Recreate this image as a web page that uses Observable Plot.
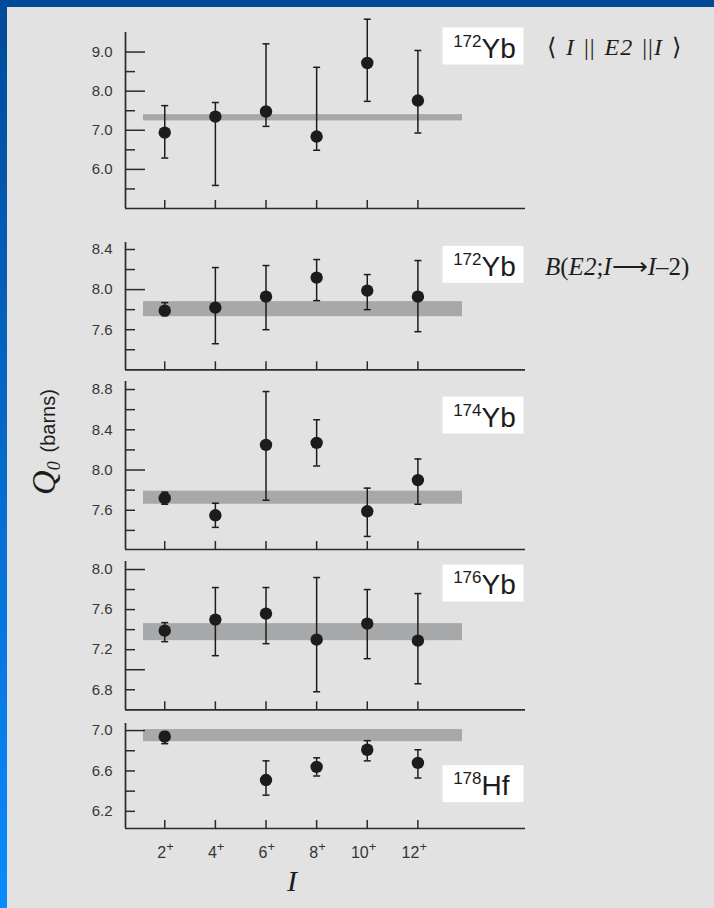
<!DOCTYPE html>
<html>
<head>
<meta charset="utf-8">
<script src="https://cdn.jsdelivr.net/npm/d3@7"></script>
<script src="https://cdn.jsdelivr.net/npm/@observablehq/plot@0.6"></script>
<style>
  html, body { margin: 0; padding: 0; background: #e1e2e1; }
  #page { position: relative; width: 714px; height: 908px; background: #e1e2e1; overflow: hidden;
          font-family: "Liberation Sans", Arial, Helvetica, sans-serif; }
  #topband { position: absolute; left: 0; top: 0; width: 714px; height: 7px; background: #004a98; }
  #leftband { position: absolute; left: 0; top: 0; width: 7px; height: 908px;
              background: linear-gradient(#004a98, #0a8aff); }
  .serif { font-family: "Liberation Serif", "Times New Roman", serif; }
  .anno { position: absolute; line-height: 1; white-space: nowrap; color: #1d1d1d; }
  .anno i { font-style: italic; }
</style>
</head>
<body>
<div id="page">
  <div id="topband"></div>
  <div id="leftband"></div>
</div>
<script>
// ---------- data ----------
const spins = [2, 4, 6, 8, 10, 12];
const spinLabels = ["2", "4", "6", "8", "10", "12"];
const parity = "+";
const xDomain = [0.45, 16.25];

// 172Yb  <I||E2||I>
const yb172Diag   = [6.94, 7.35, 7.48, 6.84, 8.72, 7.76];
const yb172DiagLo = [6.29, 5.59, 7.10, 6.49, 7.74, 6.93];
const yb172DiagHi = [7.63, 7.71, 9.21, 8.61, 9.84, 9.04];
const yb172DiagBand = [7.24, 7.40];
const domainP1 = [5.0, 9.5];
const ticksP1  = [5.5, 6.0, 6.5, 7.0, 7.5, 8.0, 8.5, 9.0];
const labelsP1 = [6.0, 7.0, 8.0, 9.0];

// 172Yb  B(E2; I -> I-2)
const yb172BE2   = [7.79, 7.82, 7.93, 8.12, 7.99, 7.93];
const yb172BE2Lo = [7.74, 7.46, 7.60, 7.89, 7.80, 7.58];
const yb172BE2Hi = [7.87, 8.22, 8.24, 8.30, 8.15, 8.29];
const yb172BE2Band = [7.73, 7.88];
const domainP2 = [7.2, 8.47];
const ticksP2  = [7.4, 7.6, 7.8, 8.0, 8.2, 8.4];
const labelsP2 = [7.6, 8.0, 8.4];

// 174Yb
const yb174   = [7.72, 7.55, 8.25, 8.27, 7.59, 7.90];
const yb174Lo = [7.66, 7.43, 7.70, 8.04, 7.34, 7.66];
const yb174Hi = [7.78, 7.67, 8.78, 8.50, 7.82, 8.11];
const yb174Band = [7.66, 7.79];
const domainP3 = [7.21, 8.88];
const ticksP3  = [7.4, 7.6, 7.8, 8.0, 8.2, 8.4, 8.6, 8.8];
const labelsP3 = [7.6, 8.0, 8.4, 8.8];

// 176Yb
const yb176   = [7.39, 7.50, 7.56, 7.30, 7.46, 7.29];
const yb176Lo = [7.28, 7.14, 7.26, 6.78, 7.11, 6.86];
const yb176Hi = [7.47, 7.82, 7.82, 7.92, 7.80, 7.76];
const yb176Band = [7.29, 7.46];
const domainP4 = [6.6, 8.08];
const ticksP4  = [6.8, 7.0, 7.2, 7.4, 7.6, 7.8, 8.0];
const labelsP4 = [6.8, 7.2, 7.6, 8.0];

// 178Hf
const hf178   = [6.94, null, 6.51, 6.64, 6.81, 6.68];
const hf178Lo = [6.87, null, 6.36, 6.55, 6.70, 6.53];
const hf178Hi = [6.99, null, 6.70, 6.73, 6.90, 6.81];
const hf178Band = [6.89, 7.01];
const domainP5 = [6.03, 7.07];
const ticksP5  = [6.2, 6.4, 6.6, 6.8, 7.0];
const labelsP5 = [6.2, 6.6, 7.0];

// ---------- layout / style ----------
const ink = "#1c1c1c";
const axisInk = "#2a2a2a";
const labelInk = "#363636";
const sans = "Liberation Sans, Arial, Helvetica, sans-serif";
const W = 714, ML = 125, MR = 189, FW = W - ML - MR;

const capSymbol = {
  draw(ctx, size) { const r = Math.sqrt(size / Math.PI); ctx.moveTo(-r, 0); ctx.lineTo(r, 0); }
};

const panels = [
  {q: yb172Diag, lo: yb172DiagLo, hi: yb172DiagHi, band: yb172DiagBand, domain: domainP1, ticks: ticksP1, labels: labelsP1, mass: "172", elem: "Yb", top: 32, bottom: 208, boxTop: 27},
  {q: yb172BE2, lo: yb172BE2Lo, hi: yb172BE2Hi, band: yb172BE2Band, domain: domainP2, ticks: ticksP2, labels: labelsP2, mass: "172", elem: "Yb", top: 241.7, bottom: 369, boxTop: 245},
  {q: yb174, lo: yb174Lo, hi: yb174Hi, band: yb174Band, domain: domainP3, ticks: ticksP3, labels: labelsP3, mass: "174", elem: "Yb", top: 381, bottom: 549, boxTop: 396},
  {q: yb176, lo: yb176Lo, hi: yb176Hi, band: yb176Band, domain: domainP4, ticks: ticksP4, labels: labelsP4, mass: "176", elem: "Yb", top: 561, bottom: 709.3, boxTop: 564},
  {q: hf178, lo: hf178Lo, hi: hf178Hi, band: hf178Band, domain: domainP5, ticks: ticksP5, labels: labelsP5, mass: "178", elem: "Hf", top: 723.3, bottom: 828.3, boxTop: 765}
];

const page = document.getElementById("page");

panels.forEach((p, k) => {
  const isLast = k === panels.length - 1;
  const rows = spins.map((I, i) => ({I, q: p.q[i], lo: p.lo[i], hi: p.hi[i]})).filter(d => d.q != null);
  const FH = p.bottom - p.top;
  const mt = 24, mb = isLast ? 50 : 24;
  const major = p.ticks.filter(v => Number.isInteger(v));
  const minor = p.ticks.filter(v => !Number.isInteger(v));
  const bt = p.boxTop - p.top, boxH = 37;
  const marks = [
    Plot.rect([p.band], {y1: d => d[0], y2: d => d[1], insetLeft: 18, insetRight: 63, fill: "#a7a8aa"}),
    Plot.ruleX(rows, {x: "I", y1: "lo", y2: "hi", stroke: ink, strokeWidth: 1.5}),
    Plot.dot(rows, {x: "I", y: "lo", symbol: capSymbol, r: 3.5, fill: "none", stroke: ink, strokeWidth: 1.5}),
    Plot.dot(rows, {x: "I", y: "hi", symbol: capSymbol, r: 3.5, fill: "none", stroke: ink, strokeWidth: 1.5}),
    Plot.dot(rows, {x: "I", y: "q", r: 6.2, fill: ink}),
    Plot.ruleX([xDomain[0]], {stroke: axisInk, strokeWidth: 1.7}),
    Plot.ruleY([p.domain[0]], {stroke: axisInk, strokeWidth: 1.7}),
    Plot.ruleY(major, {y: d => d, insetRight: FW - 20, stroke: axisInk, strokeWidth: 1.5}),
    Plot.ruleY(minor, {y: d => d, insetRight: FW - 10, stroke: axisInk, strokeWidth: 1.5}),
    Plot.ruleX(spins, {x: d => d, insetTop: FH - 8, stroke: axisInk, strokeWidth: 1.5}),
    Plot.text(p.labels, {y: d => d, frameAnchor: "left", dx: -13, textAnchor: "end", text: d => d.toFixed(1), fontSize: 15, fill: labelInk, fontFamily: sans}),
    Plot.frame({fill: "white", stroke: "none", insetLeft: 317, insetRight: 2, insetTop: bt, insetBottom: FH - bt - boxH}),
    Plot.text([p.mass], {text: d => d, frameAnchor: "top-right", dx: -44, dy: bt + 19, textAnchor: "end", lineAnchor: "bottom", fontSize: 17, fill: ink, fontFamily: sans}),
    Plot.text([p.elem], {text: d => d, frameAnchor: "top-right", dx: -44, dy: bt + 30, textAnchor: "start", lineAnchor: "bottom", fontSize: 28, fill: ink, fontFamily: sans})
  ];
  if (isLast) {
    marks.push(
      Plot.text(spins, {x: d => d, text: (d, i) => spinLabels[i], frameAnchor: "bottom", dx: 1.5, dy: 29, textAnchor: "end", lineAnchor: "bottom", fontSize: 16, fill: labelInk, fontFamily: sans}),
      Plot.text(spins, {x: d => d, text: () => parity, frameAnchor: "bottom", dx: 1.5, dy: 22.5, textAnchor: "start", lineAnchor: "bottom", fontSize: 13, fill: labelInk, fontFamily: sans})
    );
  }
  const svg = Plot.plot({
    width: W, height: mt + FH + mb,
    marginLeft: ML, marginRight: MR, marginTop: mt, marginBottom: mb,
    x: {domain: xDomain, axis: null},
    y: {domain: p.domain, axis: null},
    style: {background: "transparent", overflow: "visible"},
    marks
  });
  svg.style.position = "absolute";
  svg.style.left = "0px";
  svg.style.top = (p.top - mt) + "px";
  page.appendChild(svg);
});

// ---------- titles / annotations ----------
function addDiv(html, css, cls) {
  const d = document.createElement("div");
  d.className = "anno " + (cls || "");
  d.innerHTML = html;
  Object.assign(d.style, css);
  page.appendChild(d);
  return d;
}
addDiv("⟨ <i>I</i> || <i>E2</i> ||<i>I</i> ⟩", {left: "547px", top: "35px", fontSize: "24px", letterSpacing: "1px", wordSpacing: "2px"}, "serif");
addDiv("<i>B</i>(<i>E2</i>;<i>I</i>⟶<i>I</i>–2)", {left: "545px", top: "254px", fontSize: "25px"}, "serif");
addDiv("<i>I</i>", {left: "242px", width: "100px", textAlign: "center", top: "866px", fontSize: "30px"}, "serif");
addDiv('<span class="serif" style="font-style:italic;font-size:34px">Q</span><span class="serif" style="font-style:italic;font-size:18px;position:relative;top:5px">0</span>&nbsp;&nbsp;<span style="font-size:20px">(barns)</span>',
  {left: "-56px", top: "427px", width: "200px", height: "30px", lineHeight: "30px", textAlign: "center", transform: "rotate(-90deg)", transformOrigin: "100px 15px"});
</script>
</body>
</html>
